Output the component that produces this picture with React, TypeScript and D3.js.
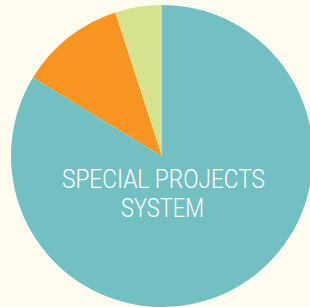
import React from "react";
import * as d3 from "d3";

const categories = ["Special Projects System", "Orange", "Green"];
const values = [83.7, 11.3, 5.0];
const colors = ["#72c0c2", "#f79520", "#d5e38f"];
const labelLines = ["SPECIAL PROJECTS", "SYSTEM"];

const width = 310;
const height = 307;
const cx = 162;
const cy = 156;
const radius = 151;

const App: React.FC = () => {
  const pie = d3
    .pie<number>()
    .sort(null)
    .value((d) => d);
  const arcs = pie(values);
  const arc = d3.arc<d3.PieArcDatum<number>>().innerRadius(0).outerRadius(radius);

  return (
    <svg
      width={width}
      height={height}
      style={{ position: "absolute", left: 0, top: 0, background: "#fefbef" }}
    >
      <rect width={width} height={height} fill="#fefbef" />
      <g transform={`translate(${cx},${cy})`}>
        {arcs.map((a, i) => (
          <path key={categories[i]} d={arc(a) || ""} fill={colors[i]} />
        ))}
      </g>
      <g fill="#ffffff" fontFamily="Roboto, sans-serif" fontWeight={300} fontSize={26} textAnchor="middle">
        <text x={163.5} y={188} textLength={203} lengthAdjust="spacingAndGlyphs">
          {labelLines[0]}
        </text>
        <text x={162.5} y={217} textLength={83} lengthAdjust="spacingAndGlyphs">
          {labelLines[1]}
        </text>
      </g>
    </svg>
  );
};

export default App;
